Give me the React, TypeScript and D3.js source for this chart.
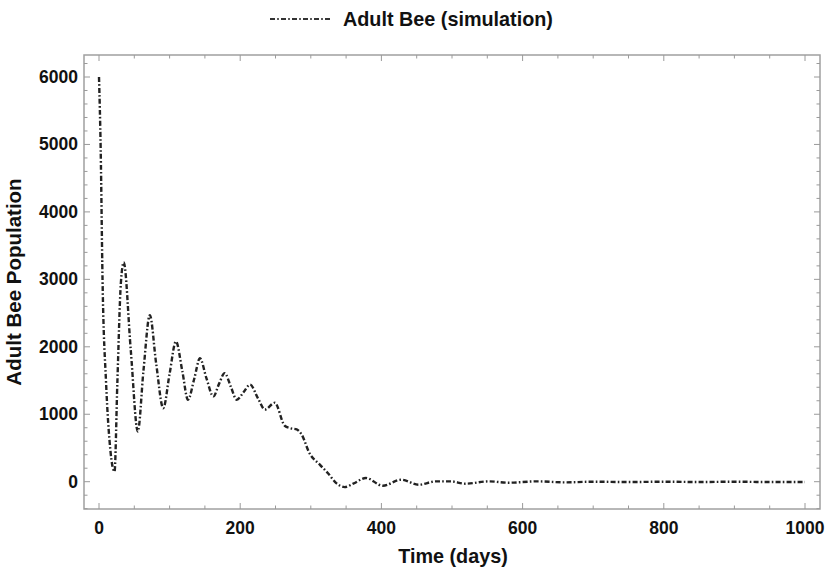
import React from "react";
import * as d3 from "d3";

const times = [0, 2.4, 5, 10, 16, 22, 26, 31, 35, 45, 55, 63, 72, 81, 91, 100, 109, 118, 126, 135, 143, 152, 162, 170, 178, 187, 195, 205, 214, 225, 235, 249, 263, 272, 280, 287, 298, 313, 324, 336, 348, 360, 378, 402, 428, 453, 477, 498, 519, 552, 580, 620, 660, 700, 750, 800, 850, 900, 950, 1000];
const adultBee = [6000, 4920, 3000, 1470, 480, 150, 1470, 2950, 3250, 1950, 745, 1650, 2470, 1750, 1090, 1600, 2080, 1640, 1215, 1530, 1830, 1540, 1265, 1450, 1610, 1400, 1215, 1330, 1440, 1240, 1070, 1170, 830, 790, 775, 700, 425, 250, 130, -20, -80, -30, 55, -60, 30, -45, 5, 5, -30, 5, -15, 5, -10, 0, -5, 0, -5, 0, -5, -5];

const xTicks = [0, 200, 400, 600, 800, 1000];
const yTicks = [0, 1000, 2000, 3000, 4000, 5000, 6000];

const FRAME = { left: 84, right: 820, top: 55, bottom: 509 };
const FONT = "'Liberation Sans', Arial, sans-serif";

export default function App() {
  const x = d3.scaleLinear().domain([0, 1000]).range([99, 805]);
  const y = d3.scaleLinear().domain([0, 6000]).range([481.7, 77]);

  const xMinor = d3.range(0, 1001, 50).filter((v) => v % 200 !== 0);
  const yMinor = d3.range(-400, 6301, 200).filter((v) => v % 1000 !== 0 && y(v) > FRAME.top && y(v) < FRAME.bottom);

  const pts = times.map((t, i) => [t, adultBee[i]] as [number, number]);
  const line = d3
    .line<[number, number]>()
    .x((d) => x(d[0]))
    .y((d) => y(d[1]))
    .curve(d3.curveMonotoneX);

  const tickColor = "#9a9a9a";
  const dash = "5,2.2,1.6,2.2";

  return (
    <svg width={830} height={578} style={{ display: "block", position: "absolute", left: 0, top: 0 }}>
      <rect x={0} y={0} width={830} height={578} fill="#fff" />
      {/* legend */}
      <line x1={270} x2={330} y1={19} y2={19} stroke="#333" strokeWidth={2} strokeDasharray={dash} />
      <text x={343} y={26} fontFamily={FONT} fontWeight="bold" fontSize={19.8} fill="#111">
        Adult Bee (simulation)
      </text>

      {/* frame */}
      <rect
        x={FRAME.left}
        y={FRAME.top}
        width={FRAME.right - FRAME.left}
        height={FRAME.bottom - FRAME.top}
        fill="none"
        stroke="#a0a0a0"
        strokeWidth={1.5}
      />

      {/* x ticks */}
      {xTicks.map((v) => (
        <g key={"xt" + v}>
          <line x1={x(v)} x2={x(v)} y1={FRAME.bottom} y2={FRAME.bottom - 6} stroke={tickColor} />
          <line x1={x(v)} x2={x(v)} y1={FRAME.top} y2={FRAME.top + 6} stroke={tickColor} />
          <text x={x(v)} y={534} textAnchor="middle" fontFamily={FONT} fontWeight="bold" fontSize={17.5} fill="#111">
            {v}
          </text>
        </g>
      ))}
      {xMinor.map((v) => (
        <g key={"xm" + v}>
          <line x1={x(v)} x2={x(v)} y1={FRAME.bottom} y2={FRAME.bottom - 3.5} stroke={tickColor} />
          <line x1={x(v)} x2={x(v)} y1={FRAME.top} y2={FRAME.top + 3.5} stroke={tickColor} />
        </g>
      ))}

      {/* y ticks */}
      {yTicks.map((v) => (
        <g key={"yt" + v}>
          <line x1={FRAME.left} x2={FRAME.left + 6} y1={y(v)} y2={y(v)} stroke={tickColor} />
          <line x1={FRAME.right} x2={FRAME.right - 6} y1={y(v)} y2={y(v)} stroke={tickColor} />
          <text x={78} y={y(v) + 6} textAnchor="end" fontFamily={FONT} fontWeight="bold" fontSize={17.5} fill="#111">
            {v}
          </text>
        </g>
      ))}
      {yMinor.map((v) => (
        <g key={"ym" + v}>
          <line x1={FRAME.left} x2={FRAME.left + 3.5} y1={y(v)} y2={y(v)} stroke={tickColor} />
          <line x1={FRAME.right} x2={FRAME.right - 3.5} y1={y(v)} y2={y(v)} stroke={tickColor} />
        </g>
      ))}

      {/* series */}
      <path d={line(pts) || ""} fill="none" stroke="#222" strokeWidth={2.4} strokeDasharray={dash} />

      {/* axis titles */}
      <text x={453} y={563} textAnchor="middle" fontFamily={FONT} fontWeight="bold" fontSize={19.8} fill="#111">
        Time (days)
      </text>
      <text
        transform={`translate(21,282) rotate(-90)`}
        textAnchor="middle"
        fontFamily={FONT}
        fontWeight="bold"
        fontSize={20.5}
        fill="#111"
      >
        Adult Bee Population
      </text>
    </svg>
  );
}
